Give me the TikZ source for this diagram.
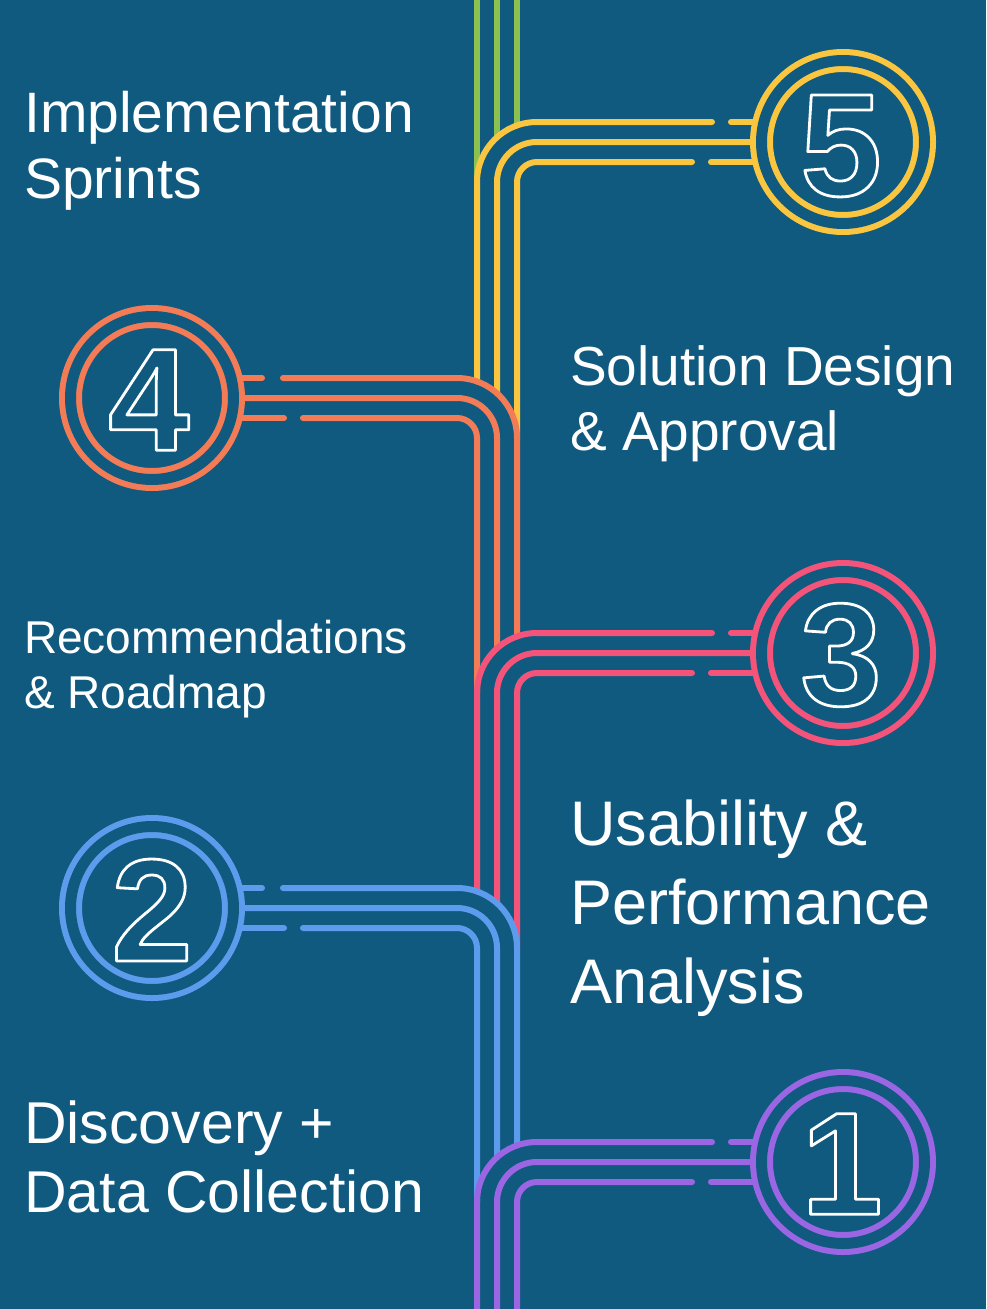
\documentclass[tikz,border=0pt]{standalone}
\usepackage{fontspec}
\setmainfont{Liberation Sans}
\newfontfamily\digitfont{Liberation Sans}
\definecolor{bgblue}{HTML}{105A80}
\definecolor{trackgreen}{HTML}{8CC152}
\definecolor{trackyellow}{HTML}{FAC63F}
\definecolor{trackorange}{HTML}{F37C56}
\definecolor{trackpink}{HTML}{F4547A}
\definecolor{trackblue}{HTML}{5D9CEC}
\definecolor{trackpurple}{HTML}{9A66E4}
% outlined digit: fill in background colour, stroke in white
\newcommand{\outlined}[1]{\special{pdf:literal direct 2 Tr 2.8 w 1 j 0.063 0.353 0.502 rg}#1\special{pdf:literal direct 0 Tr}}
\tikzset{
  track/.style={draw=#1, line width=6pt, line cap=round},
  stop/.style={circle, draw=#1, line width=6pt, double=bgblue, double distance=11pt,
    minimum size=163pt, inner sep=0pt},
  digit/.style={text=white, inner sep=0pt, font=\digitfont\bfseries\fontsize{146}{146}\selectfont},
  caption/.style={text=white, anchor=base west, align=left, inner sep=0pt}
}
\begin{document}
\begin{tikzpicture}[x=1pt,y=-1pt]
\fill[bgblue] (0,0) rectangle (986,1309);
\useasboundingbox (0,0) rectangle (986,1309);
% feed line
\draw[track=trackgreen] (477,-5) -- (477,182);
\draw[track=trackgreen] (497,-5) -- (497,137.3);
\draw[track=trackgreen] (517,-5) -- (517,125.4);
% step 5
\draw[track=trackyellow, rounded corners=60pt] (712,122) -- (477,122) -- (477,381.4);
\draw[track=trackyellow] (731,122) -- (756,122);
\draw[track=trackyellow, rounded corners=40pt] (756,142) -- (497,142) -- (497,393.3);
\draw[track=trackyellow, rounded corners=20pt] (692,162) -- (517,162) -- (517,438);
\draw[track=trackyellow] (711,162) -- (756,162);
% step 4
\draw[track=trackorange, rounded corners=60pt] (283,378) -- (517,378) -- (517,636.4);
\draw[track=trackorange] (239,378) -- (262,378);
\draw[track=trackorange, rounded corners=40pt] (239,398) -- (497,398) -- (497,648.3);
\draw[track=trackorange, rounded corners=20pt] (303,418) -- (477,418) -- (477,693);
\draw[track=trackorange] (239,418) -- (284,418);
% step 3
\draw[track=trackpink, rounded corners=60pt] (712,633) -- (477,633) -- (477,891.4);
\draw[track=trackpink] (731,633) -- (756,633);
\draw[track=trackpink, rounded corners=40pt] (756,653) -- (497,653) -- (497,903.3);
\draw[track=trackpink, rounded corners=20pt] (692,673) -- (517,673) -- (517,948);
\draw[track=trackpink] (711,673) -- (756,673);
% step 2
\draw[track=trackblue, rounded corners=60pt] (283,888) -- (517,888) -- (517,1145.4);
\draw[track=trackblue] (239,888) -- (262,888);
\draw[track=trackblue, rounded corners=40pt] (239,908) -- (497,908) -- (497,1157.3);
\draw[track=trackblue, rounded corners=20pt] (303,928) -- (477,928) -- (477,1202);
\draw[track=trackblue] (239,928) -- (284,928);
% step 1
\draw[track=trackpurple, rounded corners=60pt] (712,1142) -- (477,1142) -- (477,1320);
\draw[track=trackpurple] (731,1142) -- (756,1142);
\draw[track=trackpurple, rounded corners=40pt] (756,1162) -- (497,1162) -- (497,1320);
\draw[track=trackpurple, rounded corners=20pt] (692,1182) -- (517,1182) -- (517,1320);
\draw[track=trackpurple] (711,1182) -- (756,1182);
% stops
\node[stop=trackyellow] (s5) at (843,142) {};
\node[stop=trackorange] (s4) at (152,398) {};
\node[stop=trackpink] (s3) at (843,653) {};
\node[stop=trackblue] (s2) at (152,908) {};
\node[stop=trackpurple] (s1) at (843,1162) {};
% digits
\node[digit] (n5) at ([shift={(-2,4)}]s5) {\outlined{5}};
\node[digit] (n4) at ([shift={(-3,2)}]s4) {\outlined{4}};
\node[digit] (n3) at ([shift={(-2,2)}]s3) {\outlined{3}};
\node[digit] (n2) at ([shift={(0,2)}]s2) {\outlined{2}};
\node[digit] (n1) at ([shift={(-1,2)}]s1) {\outlined{1}};
% captions (anchored at the baseline of the last line)
\node[caption, font=\fontsize{57}{66}\selectfont] (t5) at (24,198) {Implementation\\Sprints};
\node[caption, font=\fontsize{55}{65}\selectfont] (t4) at (570,450) {Solution Design\\\& Approval};
\node[caption, font=\fontsize{46}{55}\selectfont] (t3) at (24,708) {Recommendations\\\& Roadmap};
\node[caption, font=\fontsize{63}{79}\selectfont] (t2) at (570,1003) {Usability \&\\Performance\\Analysis};
\node[caption, font=\fontsize{59}{69}\selectfont] (t1) at (24,1212) {Discovery +\\Data Collection};
\end{tikzpicture}
\end{document}
